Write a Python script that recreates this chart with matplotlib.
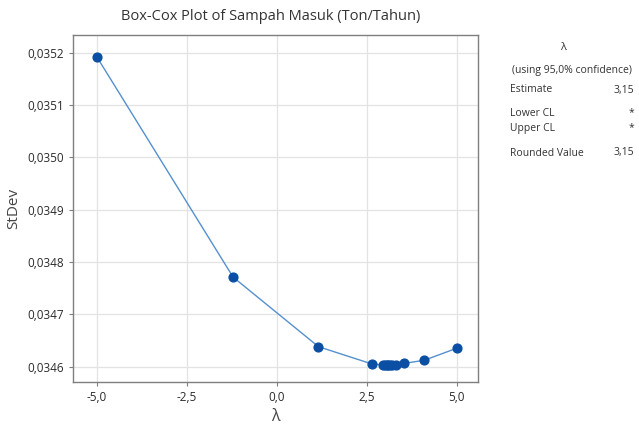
import matplotlib
matplotlib.use("Agg")
import matplotlib.pyplot as plt
from matplotlib.ticker import FuncFormatter

# ============================================================
# Data
# ============================================================

lambdas = [-5.0, -1.21, 1.16, 2.64, 2.95, 3.0, 3.05, 3.1, 3.15, 3.2, 3.3, 3.54, 4.1, 5.0]
stdev = [0.035193, 0.034771, 0.034638, 0.034605, 0.034603, 0.034602, 0.034602,
         0.034602, 0.034602, 0.034602, 0.034603, 0.034606, 0.034612, 0.034635]

x_ticks = [-5.0, -2.5, 0.0, 2.5, 5.0]
y_ticks = [0.0346, 0.0347, 0.0348, 0.0349, 0.0350, 0.0351, 0.0352]

info_labels = ["Estimate", "Lower CL", "Upper CL", "Rounded Value"]
info_values = ["3,15", "*", "*", "3,15"]

# ============================================================
# Figure
# ============================================================

plt.rcParams["font.family"] = ["Open Sans", "DejaVu Sans"]

fig = plt.figure(figsize=(6.39, 4.33), dpi=100)
ax = fig.add_axes([0.114, 0.1185, 0.634, 0.8005])

ax.plot(lambdas, stdev, color="#5590cf", linewidth=1.0, zorder=2)
ax.scatter(lambdas, stdev, s=40, color="#0a4fa3", zorder=3)

ax.set_xlim(-5.66, 5.59)
ax.set_ylim(0.034571, 0.035234)
ax.set_xticks(x_ticks)
ax.set_yticks(y_ticks)

ax.xaxis.set_major_formatter(FuncFormatter(lambda v, p: f"{v:.1f}".replace(".", ",")))
ax.yaxis.set_major_formatter(FuncFormatter(lambda v, p: f"{v:.4f}".replace(".", ",")))

ax.grid(True, color="#e3e3e3", linewidth=0.9)
ax.set_axisbelow(True)

for spine in ax.spines.values():
    spine.set_color("#7f7f7f")
    spine.set_linewidth(1.0)

ax.tick_params(axis="both", labelsize=8.5, colors="#2b2b2b", length=3)
ax.tick_params(axis="both", color="#7f7f7f")

ax.set_xlabel("λ", fontsize=11.5, color="#444444")
ax.set_ylabel("StDev", fontsize=11, color="#444444")

fig.text(0.423, 0.962, "Box-Cox Plot of Sampah Masuk (Ton/Tahun)",
         fontsize=10.5, color="#333333", ha="center", va="center")

# ============================================================
# Info Panel
# ============================================================

fig.text(563 / 639, 1 - 47 / 433, "λ", fontsize=8, color="#333333", ha="center", va="center")
fig.text(572 / 639, 1 - 70 / 433, "(using 95,0% confidence)", fontsize=7.5,
         color="#333333", ha="center", va="center")

rows_y = [90, 113, 128, 153]
for label, value, y in zip(info_labels, info_values, rows_y):
    fig.text(510 / 639, 1 - y / 433, label, fontsize=7.5, color="#333333", ha="left", va="center")
    fig.text(634 / 639, 1 - y / 433, value, fontsize=7.5, color="#333333", ha="right", va="center")

fig.savefig("out.png", dpi=100)
